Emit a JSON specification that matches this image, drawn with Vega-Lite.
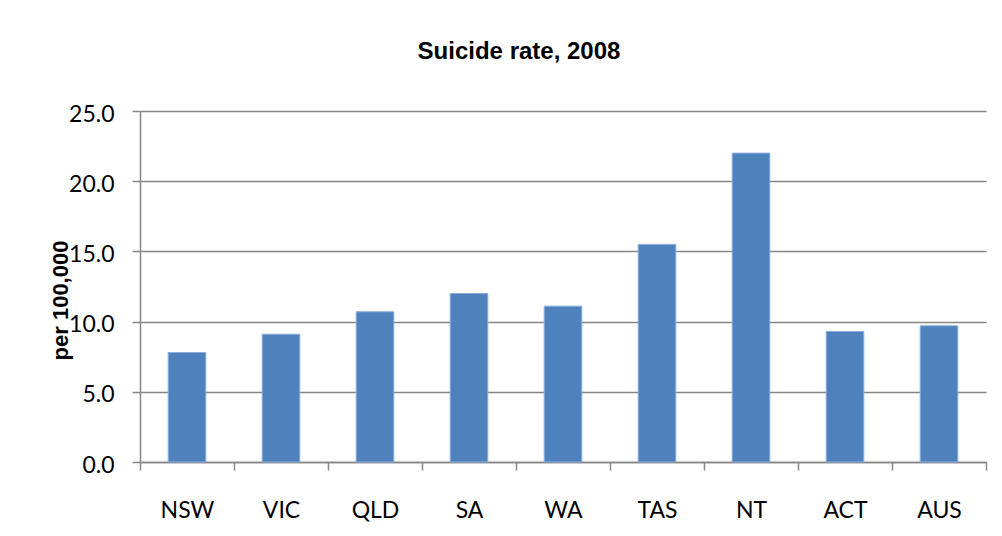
{
  "$schema": "https://vega.github.io/schema/vega-lite/v6.json",
  "width": 846,
  "height": 351,
  "autosize": {"type": "none"},
  "padding": {"left": 140, "top": 111, "right": 16, "bottom": 74},
  "background": "white",
  "title": {
    "text": "Suicide rate, 2008",
    "font": "Liberation Sans",
    "fontSize": 24,
    "fontWeight": "bold",
    "color": "black",
    "anchor": "middle",
    "frame": "group",
    "dx": -44,
    "baseline": "alphabetic",
    "offset": 20
  },
  "data": {
    "values": [
      {"state": "NSW", "rate": 7.8},
      {"state": "VIC", "rate": 9.1},
      {"state": "QLD", "rate": 10.7},
      {"state": "SA", "rate": 12.0},
      {"state": "WA", "rate": 11.1},
      {"state": "TAS", "rate": 15.5},
      {"state": "NT", "rate": 22.0},
      {"state": "ACT", "rate": 9.3},
      {"state": "AUS", "rate": 9.7}
    ]
  },
  "mark": {
    "type": "bar",
    "width": {"band": 0.4},
    "color": "#4F81BD",
    "stroke": "#8AAEDC",
    "strokeWidth": 1
  },
  "encoding": {
    "x": {
      "field": "state",
      "type": "nominal",
      "sort": null,
      "scale": {"paddingInner": 0, "paddingOuter": 0},
      "axis": {
        "title": null,
        "tickBand": "extent",
        "ticks": true,
        "tickSize": 8,
        "tickColor": "#868686",
        "tickWidth": 1.5,
        "domainColor": "#868686",
        "domainWidth": 1.5,
        "labelAngle": 0,
        "labelFont": "Lato",
        "labelFontSize": 23,
        "labelColor": "black",
        "labelBaseline": "alphabetic",
        "labelPadding": 47
      }
    },
    "y": {
      "field": "rate",
      "type": "quantitative",
      "scale": {"domain": [0, 25], "nice": false},
      "axis": {
        "values": [0, 5, 10, 15, 20, 25],
        "format": ".1f",
        "grid": true,
        "gridColor": "#868686",
        "gridWidth": 1.5,
        "tickSize": 8,
        "tickColor": "#868686",
        "tickWidth": 1.5,
        "domainColor": "#868686",
        "domainWidth": 1.5,
        "labelFont": "Lato",
        "labelFontSize": 23,
        "labelColor": "black",
        "labelPadding": 18,
        "labelOffset": 3,
        "title": "per 100,000",
        "titleFont": "Liberation Sans",
        "titleFontSize": 22,
        "titleFontWeight": "bold",
        "titleColor": "black",
        "titleAngle": -90,
        "titleBaseline": "alphabetic",
        "titleAlign": "center",
        "titleX": -73,
        "titleY": 189
      }
    }
  },
  "config": {"view": {"stroke": null}}
}
